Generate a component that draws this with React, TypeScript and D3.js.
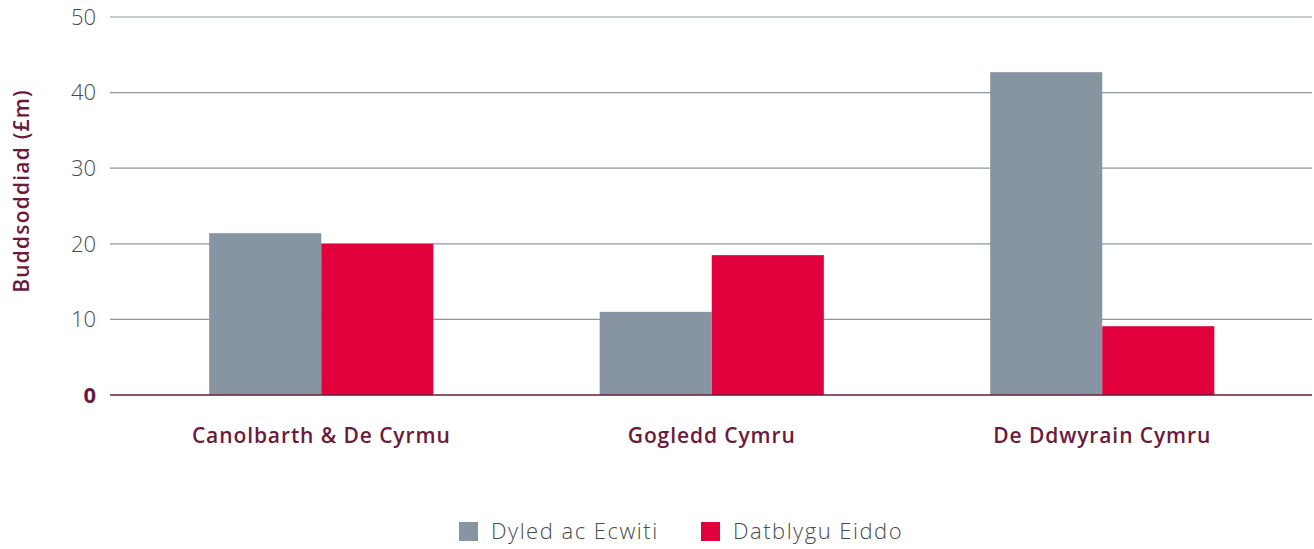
import React from "react";
import * as d3 from "d3";

const categories = ["Canolbarth & De Cyrmu", "Gogledd Cymru", "De Ddwyrain Cymru"];
const seriesNames = ["Dyled ac Ecwiti", "Datblygu Eiddo"];
const debtEquity = [21.4, 11.0, 42.7];
const propertyDev = [20.0, 18.5, 9.1];
const yTicks = [0, 10, 20, 30, 40, 50];
const colors = ["#8794a1", "#e2003c"];

const W = 1314;
const H = 549;
const MAROON = "#6a1b3d";
const FONT = "'Open Sans', Lato, sans-serif";

export default function App() {
  const y = d3.scaleLinear().domain([0, 50]).range([395, 17]);
  const x0 = d3.scaleBand<string>().domain(categories).range([126, 1297.5]).paddingInner(0.426).paddingOuter(0.213);
  const x1 = d3.scaleBand<string>().domain(seriesNames).range([0, x0.bandwidth()]);
  const series = [debtEquity, propertyDev];

  return (
    <svg width={W} height={H} style={{ position: "absolute", left: 0, top: 0, background: "#fff" }} fontFamily={FONT}>
      {yTicks.map((t) => (
        <g key={t}>
          {t !== 0 && (
            <line x1={110} x2={1312} y1={y(t)} y2={y(t)} stroke="#8a97a4" strokeWidth={1.2} />
          )}
          <text
            x={96}
            y={y(t)}
            dy="0.35em"
            textAnchor="end"
            fontSize={22}
            fontWeight={t === 0 ? 700 : 300}
            fill={t === 0 ? MAROON : "#4a4a4a"}
          >
            {t}
          </text>
        </g>
      ))}
      {categories.map((c, i) => (
        <g key={c} transform={`translate(${x0(c)},0)`}>
          {seriesNames.map((s, j) => (
            <rect
              key={s}
              x={x1(s)}
              y={y(series[j][i])}
              width={x1.bandwidth()}
              height={y(0) - y(series[j][i])}
              fill={colors[j]}
            />
          ))}
          <text
            x={x0.bandwidth() / 2}
            y={436}
            dy="0.35em"
            textAnchor="middle"
            fontSize={21}
            fontWeight={600}
            letterSpacing={0.9}
            fill={MAROON}
          >
            {c}
          </text>
        </g>
      ))}
      <line x1={110} x2={1312} y1={y(0)} y2={y(0)} stroke={MAROON} strokeWidth={1.4} />
      <text
        transform={`translate(22,191) rotate(-90)`}
        dy="0.35em"
        textAnchor="middle"
        fontSize={21}
        fontWeight={600}
        letterSpacing={1.2}
        fill={MAROON}
      >
        Buddsoddiad (£m)
      </text>
      {seriesNames.map((s, j) => {
        const lx = j === 0 ? 459 : 701;
        return (
          <g key={s}>
            <rect x={lx} y={522} width={19} height={19} fill={colors[j]} />
            <text x={lx + 32} y={531.5} dy="0.35em" fontSize={22} fontWeight={300} letterSpacing={1.5} fill="#4a4a4a">
              {s}
            </text>
          </g>
        );
      })}
    </svg>
  );
}
